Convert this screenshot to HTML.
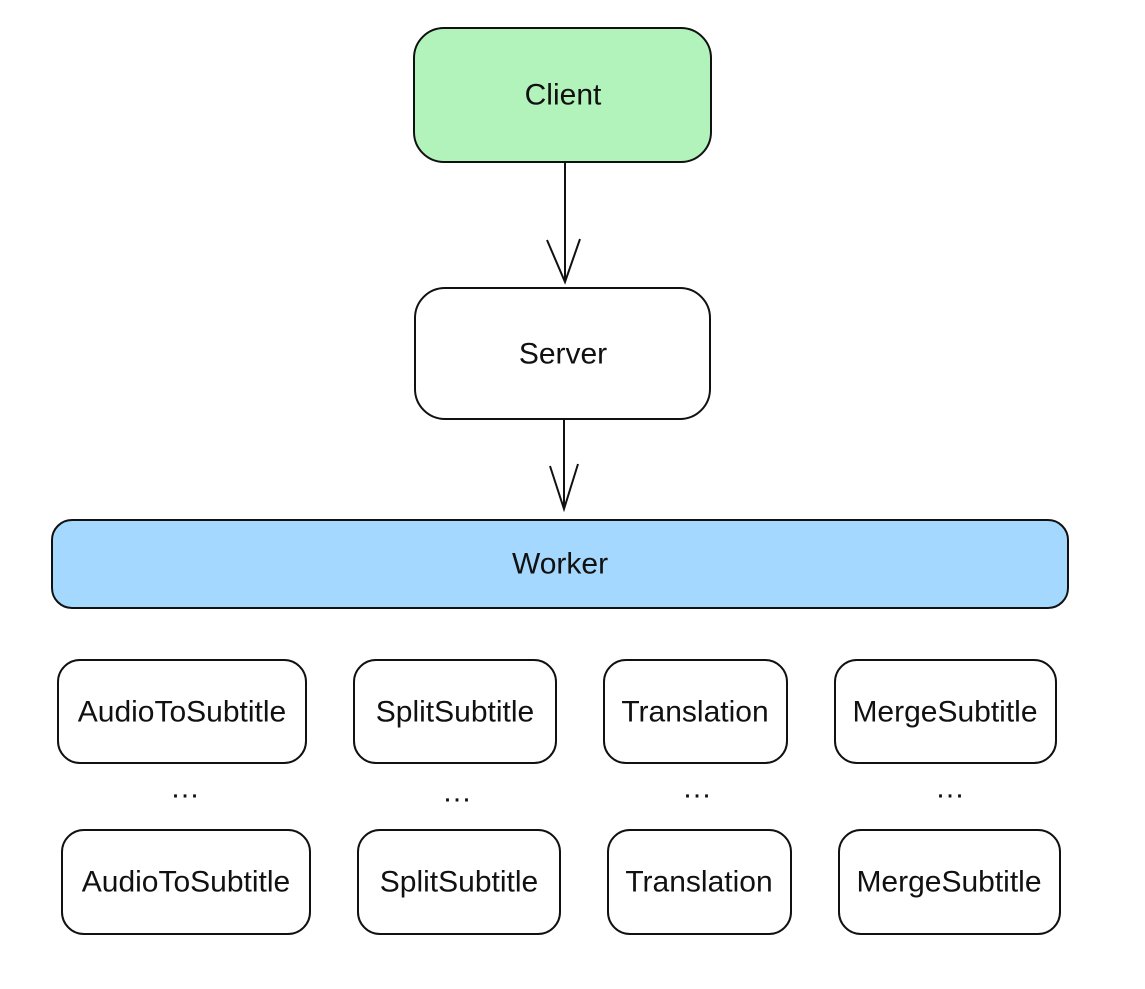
<!DOCTYPE html>
<html><head><meta charset="utf-8"><style>
html,body{margin:0;padding:0;background:#fff;}
svg{display:block;}
text{font-family:"Liberation Sans",sans-serif;font-size:30px;fill:#111;text-anchor:middle;dominant-baseline:central;}
rect{stroke:#111;stroke-width:2;}
</style></head><body>
<svg width="1145" height="989" viewBox="0 0 1145 989" xmlns="http://www.w3.org/2000/svg">
<rect x="414" y="28" width="297" height="134" rx="30" fill="#b2f2bb"/>
<text x="563" y="95">Client</text>
<line x1="565" y1="163" x2="565" y2="282" stroke="#111" stroke-width="2"/>
<polyline points="547,240 565,282 580,239" fill="none" stroke="#111" stroke-width="2"/>
<rect x="415" y="288" width="295" height="131" rx="30" fill="#fff"/>
<text x="563" y="354">Server</text>
<line x1="564" y1="420" x2="564" y2="509" stroke="#111" stroke-width="2"/>
<polyline points="550,466 564,509 578,464" fill="none" stroke="#111" stroke-width="2"/>
<rect x="52" y="520" width="1016" height="88" rx="20" fill="#a5d8ff"/>
<text x="560" y="564">Worker</text>

<rect x="58" y="660" width="248" height="103" rx="22" fill="#fff"/>
<text x="182" y="712">AudioToSubtitle</text>
<rect x="354" y="660" width="202" height="103" rx="22" fill="#fff"/>
<text x="455" y="712">SplitSubtitle</text>
<rect x="604" y="660" width="183" height="103" rx="22" fill="#fff"/>
<text x="695" y="712">Translation</text>
<rect x="835" y="660" width="221" height="103" rx="22" fill="#fff"/>
<text x="945" y="712">MergeSubtitle</text>

<text x="185" y="788">…</text>
<text x="457" y="792">…</text>
<text x="697" y="788">…</text>
<text x="950" y="788">…</text>

<rect x="62" y="830" width="248" height="104" rx="22" fill="#fff"/>
<text x="186" y="882">AudioToSubtitle</text>
<rect x="358" y="830" width="202" height="104" rx="22" fill="#fff"/>
<text x="459" y="882">SplitSubtitle</text>
<rect x="608" y="830" width="183" height="104" rx="22" fill="#fff"/>
<text x="699" y="882">Translation</text>
<rect x="839" y="830" width="221" height="104" rx="22" fill="#fff"/>
<text x="949" y="882">MergeSubtitle</text>
</svg>
</body></html>
